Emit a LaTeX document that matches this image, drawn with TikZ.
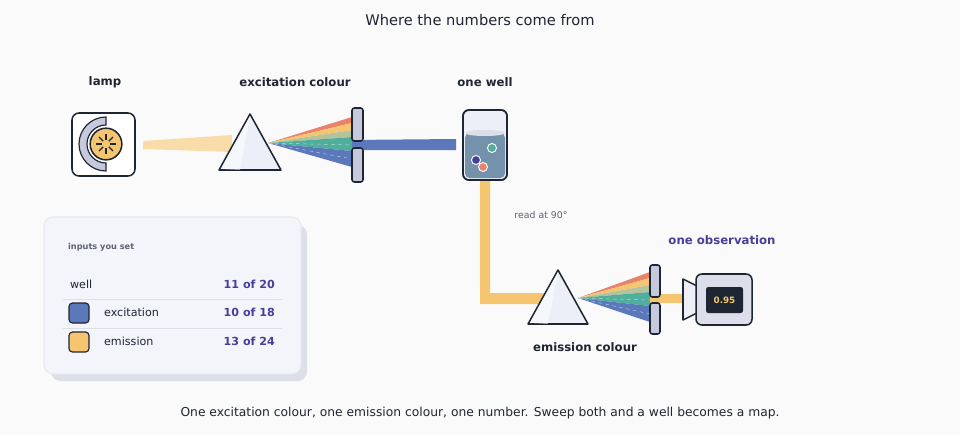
\documentclass[tikz,border=0pt]{standalone}
\usepackage{fontspec}
\setmainfont{DejaVu Sans}
\usetikzlibrary{calc,positioning}
\definecolor{ink}{HTML}{1E2533}
\definecolor{bg}{HTML}{FAFAFA}
\definecolor{glass}{HTML}{ECEFF7}
\definecolor{slitc}{HTML}{C5C9DB}
\definecolor{exc}{HTML}{5B78BB}
\definecolor{emi}{HTML}{F5C66F}
\definecolor{warm}{HTML}{F8DCAA}
\definecolor{redc}{HTML}{E8836A}
\definecolor{tanc}{HTML}{B5C29C}
\definecolor{teal}{HTML}{4FAE9C}
\definecolor{liquid}{HTML}{7492AB}
\definecolor{purp}{HTML}{463F9A}
\definecolor{panel}{HTML}{F4F5FA}
\definecolor{rule}{HTML}{DCDFE8}
\definecolor{muted}{HTML}{5E6270}
\tikzset{
  lbl/.style = {font=\bfseries\fontsize{10}{12}\selectfont, text=ink},
  part/.style = {draw=ink, line width=1.3pt, rounded corners=3pt},
  prism/.style = {draw=ink, line width=1.3pt, fill=glass, line join=round},
  slit/.style = {part, fill=slitc, rounded corners=2pt},
  row/.style = {font=\fontsize{9.5}{11}\selectfont, text=ink, anchor=west},
  val/.style = {font=\bfseries\fontsize{9.5}{11}\selectfont, text=purp, anchor=east},
}
\newcommand{\fan}[3]{% apex x, apex y, end x
  \fill[redc]  (#1,#2) -- (#3,#2-26) -- (#3,#2-20) -- cycle;
  \fill[emi]   (#1,#2) -- (#3,#2-20) -- (#3,#2-13) -- cycle;
  \fill[tanc]  (#1,#2) -- (#3,#2-13) -- (#3,#2-6) -- cycle;
  \fill[teal]  (#1,#2) -- (#3,#2-6) -- (#3,#2+8) -- cycle;
  \fill[exc]   (#1,#2) -- (#3,#2+8) -- (#3,#2+24) -- cycle;
  \draw[white, opacity=.6, dashed, line width=.4pt] (#1,#2) -- (#3,#2+2) (#1,#2) -- (#3,#2+16);
}
\begin{document}
\begin{tikzpicture}[x=0.03cm, y=-0.03cm]
  \fill[bg] (0,0) rectangle (960,435);
  \useasboundingbox (0,0) rectangle (960,435);
  \node[font=\fontsize{12.5}{15}\selectfont, text=ink] (title) at (480,20) {Where the numbers come from};
  \node[lbl] (lampL) at (105,82) {lamp};
  \node[lbl] (excL) at (295,82) {excitation colour};
  \node[lbl] (wellL) at (485,82) {one well};
  \node[lbl, text=purp] (obsL) at (722,240) {one observation};
  \node[lbl] (emiL) at (585,347) {emission colour};
  \node[font=\fontsize{8}{10}\selectfont, text=muted] (read) at (541,215) {read at 90°};
  % beams
  \fill[warm] (143,141) -- (232,135) -- (232,152) -- (143,149) -- cycle;
  \fill[exc] (348,140) -- (456,139) -- (456,150) -- (348,150) -- cycle;
  \fill[emi] (480,180) rectangle (490,298) (480,293) rectangle (558,304);
  \fill[emi] (646,294) rectangle (686,303);
  % lamp
  \draw[part, fill=white, rounded corners=6pt] (72,113) rectangle (135,176);
  \fill[slitc, draw=ink, line width=1pt] (106,117) arc (270:90:27) -- (106,163) arc (90:270:19) -- cycle;
  \node[circle, draw=ink, line width=1.3pt, fill=emi, minimum size=0.95cm, inner sep=0] (bulb) at (106,144) {};
  \foreach \a in {0,45,...,315}
    \draw[ink, line width=1pt] ($(bulb)+(\a:4)$) -- ($(bulb)+(\a:10)$);
  % excitation prism and slit
  \fan{268}{143}{352}
  \draw[prism] (250,114) -- (281,170) -- (219,170) -- cycle;
  \fill[white, opacity=.5] (250,116) -- (240,170) -- (221,169) -- cycle;
  \draw[slit] (352,108) rectangle (363,141);
  \draw[slit] (352,148) rectangle (363,182);
  % well
  \draw[part, fill=glass, rounded corners=5pt] (463,110) rectangle (507,180);
  \fill[liquid, rounded corners=4pt] (465,133) rectangle (505,178);
  \fill[rule] (485,133) ellipse (20 and 3);
  \draw[part, rounded corners=5pt] (463,110) rectangle (507,180);
  \filldraw[fill=teal, draw=white, line width=.8pt] (492,148) circle (4.5);
  \filldraw[fill=purp, draw=white, line width=.8pt] (476,160) circle (4.5);
  \filldraw[fill=redc, draw=white, line width=.8pt] (483,167) circle (4.5);
  % emission prism and slit
  \fan{578}{298}{650}
  \draw[prism] (558,270) -- (588,324) -- (528,324) -- cycle;
  \fill[white, opacity=.5] (558,272) -- (548,324) -- (530,323) -- cycle;
  \draw[slit] (650,265) rectangle (660,297);
  \draw[slit] (650,303) rectangle (660,334);
  % detector
  \draw[prism, fill=glass] (683,279) -- (697,286) -- (697,313) -- (683,320) -- cycle;
  \draw[part, fill=slitc!60, rounded corners=5pt] (696,274) rectangle (752,325);
  \fill[ink, rounded corners=2pt] (706,287) rectangle (743,313);
  \node[text=emi, font=\bfseries\fontsize{7.5}{9}\selectfont] (screen) at (724.5,300) {0.95};
  % panel
  \fill[rule, rounded corners=8pt] (51,225) rectangle (307,381);
  \draw[panel!50!rule, fill=panel, rounded corners=8pt, line width=1pt] (44,217) rectangle (301,374);
  \node[font=\bfseries\fontsize{7}{9}\selectfont, text=muted, anchor=west] (inputs) at (64,247) {inputs you set};
  \node[row] (wellR) at (66,284) {well};
  \node[val] (wellV) at (279,284) {11 of 20};
  \draw[rule] (63,299) -- (282,299) (63,328) -- (282,328);
  \draw[draw=ink, fill=exc, rounded corners=3pt, line width=1pt] (69,303) rectangle (89,323);
  \node[row] (excR) at (100,312) {excitation};
  \node[val] (excV) at (279,312) {10 of 18};
  \draw[draw=ink, fill=emi, rounded corners=3pt, line width=1pt] (69,332) rectangle (89,352);
  \node[row] (emiR) at (100,341) {emission};
  \node[val] (emiV) at (279,341) {13 of 24};
  \node[font=\fontsize{10.5}{13}\selectfont, text=ink] (caption) at (480,413) {One excitation colour, one emission colour, one number. Sweep both and a well becomes a map.};
\end{tikzpicture}
\end{document}
